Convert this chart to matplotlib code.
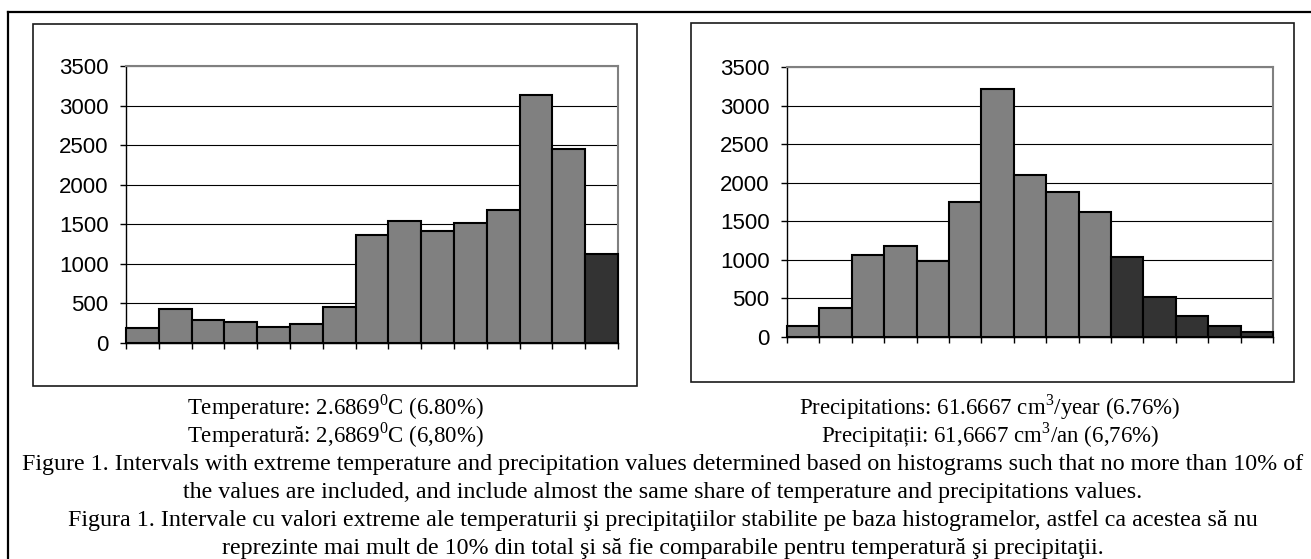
import matplotlib.pyplot as plt
from matplotlib.patches import Rectangle
from matplotlib.lines import Line2D

# histogram counts (15 equal bins each)
temp_counts = [185, 425, 290, 265, 206, 240, 450, 1360, 1546, 1420, 1521, 1681, 3130, 2456, 1120]
temp_extreme = [0, 0, 0, 0, 0, 0, 0, 0, 0, 0, 0, 0, 0, 0, 1]
precip_counts = [138, 380, 1062, 1174, 984, 1748, 3220, 2106, 1882, 1614, 1036, 518, 276, 138, 60]
precip_extreme = [0, 0, 0, 0, 0, 0, 0, 0, 0, 0, 1, 1, 1, 1, 1]
y_ticks = [0, 500, 1000, 1500, 2000, 2500, 3000, 3500]

label_temp = ["Temperature: 2.6869$^{\\mathrm{0}}$C (6.80%)",
              "Temperatură: 2,6869$^{\\mathrm{0}}$C (6,80%)"]
label_prec = ["Precipitations: 61.6667 cm$^{\\mathrm{3}}$/year (6.76%)",
              "Precipitații: 61,6667 cm$^{\\mathrm{3}}$/an (6,76%)"]
caption = ["Figure 1. Intervals with extreme temperature and precipitation values determined based on histograms such that no more than 10% of",
           "the values are included, and include almost the same share of temperature and precipitations values.",
           "Figura 1. Intervale cu valori extreme ale temperaturii şi precipitaţiilor stabilite pe baza histogramelor, astfel ca acestea să nu",
           "reprezinte mai mult de 10% din total şi să fie comparabile pentru temperatură şi precipitaţii."]

W, H = 1311, 559
GREY = "#808080"
DARK = "#333333"

plt.rcParams['mathtext.fontset'] = 'custom'
plt.rcParams['mathtext.rm'] = 'Liberation Serif'


def px_rect(x0, y0, x1, y1):
    # pixel box (top-left origin) -> figure fraction [left, bottom, width, height]
    return [x0 / W, 1 - y1 / H, (x1 - x0) / W, (y1 - y0) / H]


def draw_hist(ax, counts, extreme):
    colors = [DARK if e else GREY for e in extreme]
    ax.bar(range(len(counts)), counts, width=1, align='edge', color=colors,
           edgecolor='black', linewidth=1.5, clip_on=False, zorder=3)
    ax.set_xlim(0, len(counts))
    ax.set_ylim(0, 3500)
    ax.set_xticks(range(len(counts) + 1))
    ax.set_xticklabels([])
    ax.set_yticks(y_ticks)
    ax.set_yticklabels([str(v) for v in y_ticks], family='Liberation Sans', fontsize=16)
    ax.tick_params(axis='both', direction='out', length=4.5, width=1, color='black')
    ax.tick_params(axis='y', pad=8)
    ax.set_axisbelow(True)
    ax.grid(axis='y', color='black', linewidth=0.8)
    for s in ['top', 'right']:
        ax.spines[s].set_color(GREY)
        ax.spines[s].set_linewidth(1.5)
    for s in ['left', 'bottom']:
        ax.spines[s].set_color('black')
        ax.spines[s].set_linewidth(1)


fig = plt.figure(figsize=(W / 100, H / 100), dpi=100)

# outer frame (top and left only)
fig.add_artist(Line2D([8 / W, 1], [1 - 12 / H, 1 - 12 / H], color='black', linewidth=1.6))
fig.add_artist(Line2D([8 / W, 8 / W], [0, 1 - 12 / H], color='black', linewidth=1.6))

# chart boxes
for b in [(33, 24, 637, 386), (691, 23, 1294, 382)]:
    l, bt, w, h = px_rect(*b)
    fig.add_artist(Rectangle((l, bt), w, h, transform=fig.transFigure, fill=False,
                             edgecolor='#1a1a1a', linewidth=1.2))

ax1 = fig.add_axes(px_rect(126, 66, 618, 343))
draw_hist(ax1, temp_counts, temp_extreme)
ax2 = fig.add_axes(px_rect(787, 67, 1273, 337))
draw_hist(ax2, precip_counts, precip_extreme)

serif = dict(family='Liberation Serif', ha='center', va='baseline')
baselines = [414, 442, 470, 498, 526, 554]
for i, s in enumerate(label_temp):
    fig.text(336 / W, 1 - baselines[i] / H, s, fontsize=16.5, **serif)
for i, s in enumerate(label_prec):
    fig.text(990 / W, 1 - baselines[i] / H, s, fontsize=16.5, **serif)
for i, s in enumerate(caption):
    fig.text(663 / W, 1 - baselines[i + 2] / H, s, fontsize=17.3, **serif)

fig.savefig('out.png', dpi=100)
